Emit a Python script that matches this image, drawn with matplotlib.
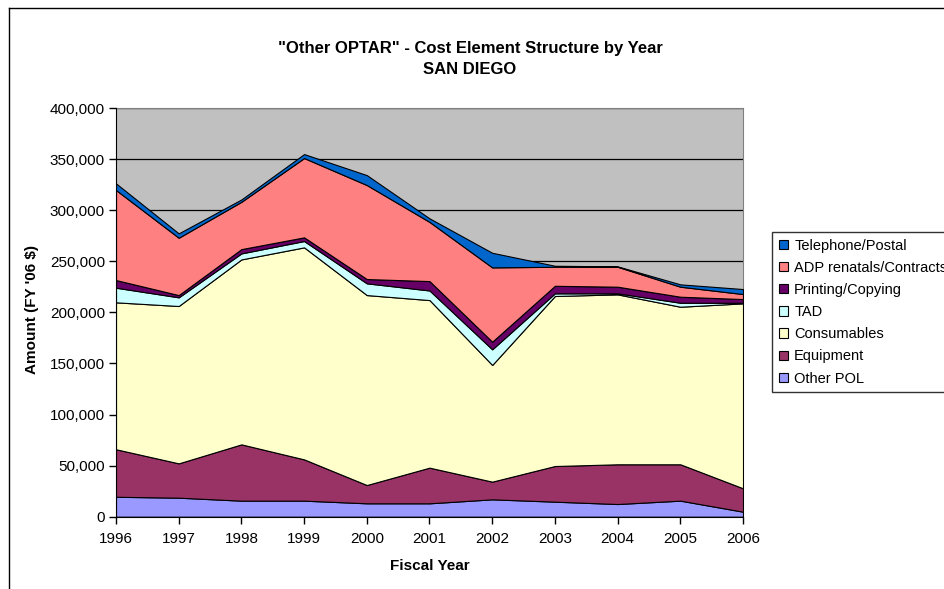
import matplotlib.pyplot as plt
from matplotlib.lines import Line2D
from matplotlib.ticker import FuncFormatter

plt.rcParams['font.family'] = ['Liberation Sans', 'DejaVu Sans']

# Дані
years = [1996, 1997, 1998, 1999, 2000, 2001, 2002, 2003, 2004, 2005, 2006]
other_pol = [19500, 18600, 15700, 15700, 13100, 13100, 17000, 14700, 12400, 15700, 4900]
equipment = [46500, 33600, 55100, 40400, 17900, 34900, 17300, 34900, 38900, 35600, 22900]
consumables = [143800, 154000, 181000, 207500, 185900, 164000, 114200, 166400, 166300, 154200, 181000]
tad = [14300, 8500, 5900, 6200, 11500, 9400, 15300, 2600, 1000, 3900, 600]
printing = [7500, 2200, 4200, 3600, 4200, 9200, 7500, 7400, 6500, 5900, 3600]
adp = [88100, 56100, 46300, 77600, 92000, 57900, 72700, 18600, 19500, 9800, 4900]
telephone = [6500, 4300, 2300, 3900, 9700, 3500, 14300, 1000, 400, 2300, 4900]

labels = ['Other POL', 'Equipment', 'Consumables', 'TAD',
          'Printing/Copying', 'ADP renatals/Contracts', 'Telephone/Postal']
colors = ['#9999FF', '#993366', '#FFFFCC', '#CCFFFF',
          '#660066', '#FF8080', '#0066CC']

fig = plt.figure(figsize=(9.45, 5.89), dpi=100)
ax = fig.add_axes([116/945, 1-516.7/589, 627/945, 408.7/589])
ax.set_facecolor('#C0C0C0')

polys = ax.stackplot(years, other_pol, equipment, consumables, tad, printing, adp, telephone,
                     labels=labels, colors=colors, edgecolor='black', linewidth=0.8, zorder=3)

ax.set_xlim(1996, 2006)
ax.set_ylim(0, 400000)
ax.set_xticks(years)
ax.set_yticks(range(0, 400001, 50000))
ax.yaxis.set_major_formatter(FuncFormatter(lambda v, p: f"{int(v):,}"))
ax.grid(axis='y', color='black', linewidth=0.9, zorder=1)
ax.tick_params(axis='both', direction='out', length=5, width=1, labelsize=11)
ax.tick_params(axis='y', pad=3)
ax.tick_params(axis='x', pad=6)
for s in ['top', 'right']:
    ax.spines[s].set_color('#808080')
for s in ['left', 'bottom']:
    ax.spines[s].set_color('black')
    ax.spines[s].set_zorder(4)

# Заголовок і підписи осей
fig.text(470/945, 1-48/589, '"Other OPTAR" - Cost Element Structure by Year',
         ha='center', va='center', fontsize=12, fontweight='bold')
fig.text(470/945, 1-69/589, 'SAN DIEGO', ha='center', va='center', fontsize=12, fontweight='bold')
fig.text(430/945, 1-566/589, 'Fiscal Year', ha='center', va='center', fontsize=11, fontweight='bold')
fig.text(32/945, 1-310/589, "Amount (FY '06 $)", ha='center', va='center',
         rotation=90, fontsize=11, fontweight='bold')

# Легенда
h, l = ax.get_legend_handles_labels()
leg = fig.legend(h[::-1], l[::-1], loc='upper left', bbox_to_anchor=(772/945, 1-232/589),
                 fontsize=10.5, frameon=True, fancybox=False, edgecolor='black',
                 handlelength=0.62, handleheight=0.62, handletextpad=0.45,
                 labelspacing=0.56, borderpad=0.45, borderaxespad=0)
leg.get_frame().set_linewidth(1)

# Рамка області діаграми
fig.add_artist(Line2D([9/945, 9/945], [0, 1-8/589], color='black', linewidth=1))
fig.add_artist(Line2D([9/945, 1], [1-8/589, 1-8/589], color='black', linewidth=1))

fig.savefig('out.png', dpi=100)
